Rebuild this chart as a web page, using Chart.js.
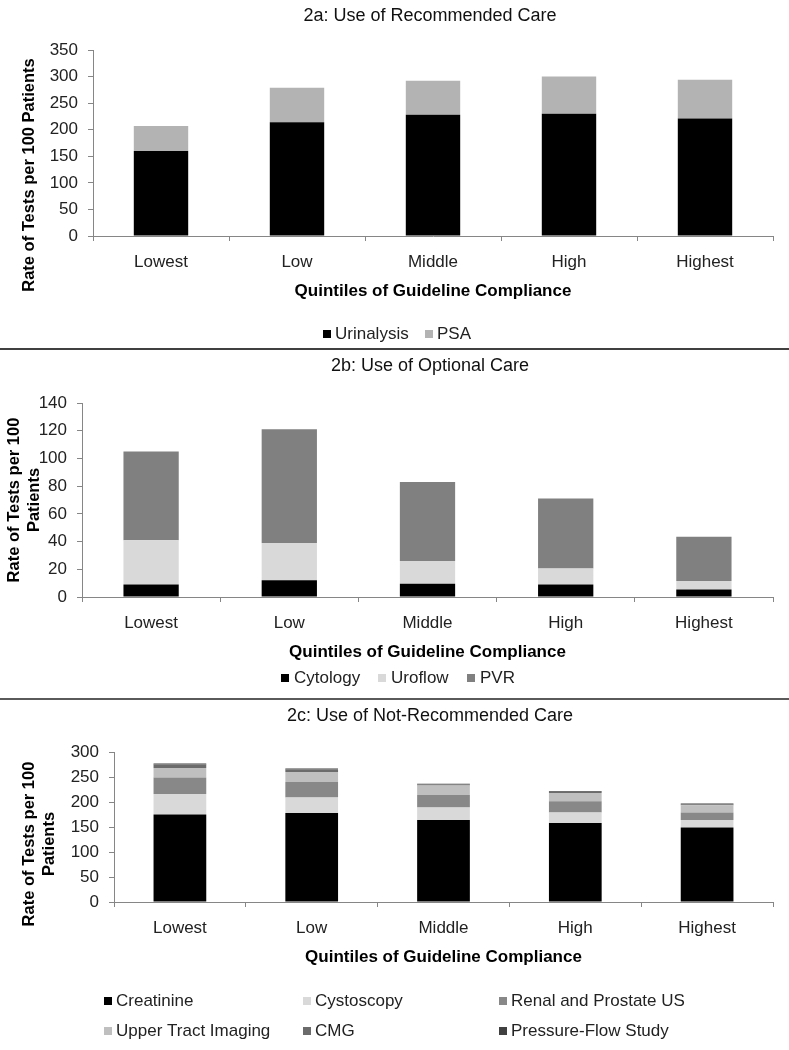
<!DOCTYPE html>
<html>
<head>
<meta charset="utf-8">
<script src="https://cdn.jsdelivr.net/npm/chart.js@4.4.0/dist/chart.umd.min.js"></script>
<style>
html,body{margin:0;padding:0;background:#fff;}
#wrap{position:relative;width:789px;height:1050px;overflow:hidden;background:#fff;}
#wrap canvas{position:absolute;left:0;top:0;}
.sep{position:absolute;left:0;width:789px;}
</style>
</head>
<body>
<div id="wrap">
  <canvas id="c1" width="789" height="1050"></canvas>
  <canvas id="c2" width="789" height="1050"></canvas>
  <canvas id="c3" width="789" height="1050"></canvas>
  <div class="sep" style="top:348px;height:2px;background:#404040"></div>
  <div class="sep" style="top:698px;height:2px;background:#5a5a5a"></div>
</div>
<script>
// ---------- data ----------
const categories = ['Lowest', 'Low', 'Middle', 'High', 'Highest'];

// 2a: Use of Recommended Care
const urinalysis = [160, 214, 228, 230, 221];
const psa        = [47, 65, 64, 70, 73];
const ticks2a    = [0, 50, 100, 150, 200, 250, 300, 350];

// 2b: Use of Optional Care
const cytology = [9, 12, 9.5, 9, 5.5];
const uroflow  = [32, 27, 16.5, 11.5, 6];
const pvr      = [64, 82, 57, 50.5, 32];
const ticks2b  = [0, 20, 40, 60, 80, 100, 120, 140];

// 2c: Use of Not-Recommended Care
const creatinine     = [175, 178, 164, 158, 149];
const cystoscopy     = [41, 31, 25, 21, 15];
const renalProstate  = [33, 31, 25, 22.5, 15];
const upperTract     = [19, 20, 19, 16.5, 14.5];
const cmg            = [7, 5, 2, 2, 2];
const pressureFlow   = [2, 2, 1.5, 1.5, 1.5];
const ticks2c        = [0, 50, 100, 150, 200, 250, 300];

const xTitle = 'Quintiles of Guideline Compliance';

// ---------- styling ----------
const FONT = "'Liberation Sans', Arial, Helvetica, sans-serif";
Chart.defaults.font.family = FONT;
Chart.defaults.color = '#222';
const AXIS = '#868686';

const decorPlugin = {
  id: 'decor',
  afterDraw(chart, args, opts) {
    const ctx = chart.ctx;
    ctx.save();
    if (opts.title) {
      ctx.font = `normal ${opts.title.size}px ${FONT}`;
      ctx.fillStyle = '#111';
      ctx.textAlign = 'center';
      ctx.textBaseline = 'middle';
      ctx.fillText(opts.title.text, opts.title.x, opts.title.y);
    }
    if (opts.yTitle) {
      ctx.font = `bold ${opts.yTitle.size}px ${FONT}`;
      ctx.fillStyle = '#000';
      ctx.textAlign = 'center';
      ctx.textBaseline = 'middle';
      opts.yTitle.lines.forEach((line, i) => {
        ctx.save();
        ctx.translate(opts.yTitle.xs[i], opts.yTitle.y);
        ctx.rotate(-Math.PI / 2);
        ctx.fillText(line, 0, 0);
        ctx.restore();
      });
    }
    if (opts.legend) {
      const L = opts.legend;
      ctx.font = `normal ${L.size}px ${FONT}`;
      ctx.textAlign = 'left';
      ctx.textBaseline = 'middle';
      chart.data.datasets.forEach((ds, i) => {
        const p = L.pos[i];
        ctx.fillStyle = ds.backgroundColor;
        ctx.fillRect(p[0], p[1] - L.box / 2, L.box, L.box);
        ctx.fillStyle = '#222';
        ctx.fillText(ds.label, p[0] + L.box + L.gap, p[1]);
      });
    }
    ctx.restore();
  }
};

function makePanel(id, datasets, tickVals, area, decor) {
  const step = tickVals[1] - tickVals[0];
  const xAxisH = 66;
  return new Chart(document.getElementById(id), {
    type: 'bar',
    data: {
      labels: categories,
      datasets: datasets.map(d => Object.assign({
        barPercentage: 0.4,
        categoryPercentage: 1.0,
        borderWidth: 0
      }, d))
    },
    options: {
      responsive: false,
      animation: false,
      events: [],
      layout: {
        padding: {
          top: area.top,
          left: 0,
          right: 789 - area.right,
          bottom: 1050 - area.bottom - xAxisH
        }
      },
      plugins: {
        legend: { display: false },
        tooltip: { enabled: false },
        title: { display: false },
        decor: decor
      },
      scales: {
        x: {
          stacked: true,
          grid: { display: true, offset: true, drawOnChartArea: false, drawTicks: true, tickLength: 5, color: AXIS },
          border: { display: true, color: AXIS, width: 1 },
          ticks: { font: { size: 17 }, color: '#222', padding: 11, maxRotation: 0, autoSkip: false },
          title: { display: true, text: xTitle, font: { size: 17, weight: 'bold' }, color: '#000', padding: 0 },
          afterFit: s => { s.height = xAxisH; }
        },
        y: {
          stacked: true,
          min: tickVals[0],
          max: tickVals[tickVals.length - 1],
          grid: { display: true, drawOnChartArea: false, drawTicks: true, tickLength: 5, color: AXIS },
          border: { display: true, color: AXIS, width: 1 },
          ticks: { stepSize: step, font: { size: 17 }, color: '#222', padding: 10 },
          afterFit: s => { s.width = area.left; }
        }
      }
    },
    plugins: [decorPlugin]
  });
}

// 2a
makePanel('c1', [
  { label: 'Urinalysis', data: urinalysis, backgroundColor: '#000000' },
  { label: 'PSA', data: psa, backgroundColor: '#b3b3b3' }
], ticks2a, { left: 93, right: 773, top: 50, bottom: 236 }, {
  title: { text: '2a: Use of Recommended Care', x: 430, y: 16, size: 18 },
  yTitle: { lines: ['Rate of Tests per 100 Patients'], xs: [29], y: 175, size: 16.5 },
  legend: { size: 17, box: 8, gap: 4, pos: [[323, 334], [425, 334]] }
});

// 2b
makePanel('c2', [
  { label: 'Cytology', data: cytology, backgroundColor: '#000000' },
  { label: 'Uroflow', data: uroflow, backgroundColor: '#d9d9d9' },
  { label: 'PVR', data: pvr, backgroundColor: '#808080' }
], ticks2b, { left: 82, right: 773, top: 403, bottom: 597 }, {
  title: { text: '2b: Use of Optional Care', x: 430, y: 366, size: 18 },
  yTitle: { lines: ['Rate of Tests per 100', 'Patients'], xs: [14, 34], y: 500, size: 16.5 },
  legend: { size: 17, box: 8, gap: 5, pos: [[281, 678], [378, 678], [467, 678]] }
});

// 2c
makePanel('c3', [
  { label: 'Creatinine', data: creatinine, backgroundColor: '#000000' },
  { label: 'Cystoscopy', data: cystoscopy, backgroundColor: '#d9d9d9' },
  { label: 'Renal and Prostate US', data: renalProstate, backgroundColor: '#888888' },
  { label: 'Upper Tract Imaging', data: upperTract, backgroundColor: '#bfbfbf' },
  { label: 'CMG', data: cmg, backgroundColor: '#6b6b6b' },
  { label: 'Pressure-Flow Study', data: pressureFlow, backgroundColor: '#404040' }
], ticks2c, { left: 114, right: 773, top: 752, bottom: 902 }, {
  title: { text: '2c: Use of Not-Recommended Care', x: 430, y: 716, size: 18 },
  yTitle: { lines: ['Rate of Tests per 100', 'Patients'], xs: [29, 49], y: 844, size: 16.5 },
  legend: { size: 17, box: 8, gap: 4, pos: [[104, 1001], [303, 1001], [499, 1001], [104, 1031], [303, 1031], [499, 1031]] }
});
</script>
</body>
</html>
